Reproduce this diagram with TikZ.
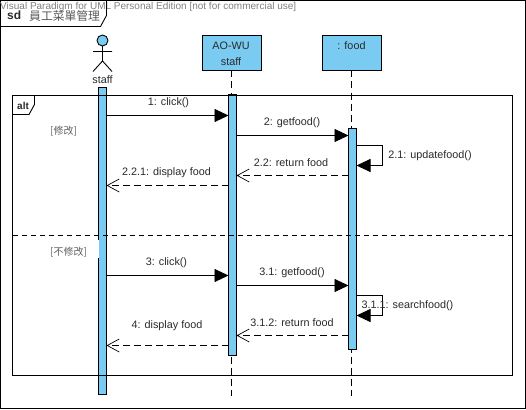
\documentclass[tikz,border=0pt]{standalone}
\usepackage{fontspec}
\setmainfont{Liberation Sans}
\newfontfamily\cjkf{Noto Sans CJK TC}[Scale=1]
\usetikzlibrary{arrows.meta}
\definecolor{lifeblue}{HTML}{7ACBF1}
\definecolor{txt}{HTML}{2A2A2A}
\tikzset{
  x=1pt,y=-1pt,
  objbox/.style={draw=black,line width=0.9pt,fill=lifeblue,inner sep=0pt,outer sep=0pt,minimum width=59pt,minimum height=35pt,anchor=north west},
  activation/.style={draw=black,line width=0.9pt,fill=lifeblue,inner sep=0pt,outer sep=0pt,minimum width=8pt,anchor=north west},
  lifeline/.style={line width=0.9pt,dash pattern=on 7pt off 4pt},
  frameline/.style={line width=0.9pt},
  sepline/.style={line width=0.8pt,dash pattern=on 5.5pt off 3.5pt},
  syncmsg/.style={line width=0.9pt,-{Triangle[length=14pt,width=13pt]}},
  retmsg/.style={line width=0.9pt,dash pattern=on 7pt off 4pt,-{Straight Barb[length=12pt,width=13pt,line width=0.7pt]}},
  lbl/.style={inner sep=0pt,font=\fontsize{10.8}{12}\selectfont,text=txt},
  guard/.style={inner sep=0pt,font=\fontsize{10}{12}\selectfont\cjkf,text=black!62},
}
\begin{document}
\begin{tikzpicture}
\useasboundingbox (0,0) rectangle (526,409);
\fill[white] (0,0) rectangle (526,409);
% outer frame
\node[draw=black,line width=0.9pt,inner sep=0pt,outer sep=0pt,minimum width=525pt,minimum height=407.5pt,anchor=north west] (outer) at (0.5,0.5) {};
% watermark
\node[inner sep=0pt,anchor=west,text=black!50,font=\fontsize{10}{12}\selectfont] (wm) at (0,7) {Visual Paradigm for UML Personal Edition [not for commercial use]};
% sd tab
\draw[frameline] (106.5,0.5) -- (106.5,15.5) -- (100.5,26.5) -- (0.5,26.5);
\node[inner sep=0pt,anchor=west,font=\bfseries\fontsize{12}{12}\selectfont,text=txt] (sdk) at (7,15.5) {sd};
\node[inner sep=0pt,anchor=west,font=\fontsize{11.8}{12}\selectfont\cjkf,text=black!65] (sdn) at (29,15.5) {員工菜單管理};
% actor
\node[circle,draw=black,line width=0.9pt,fill=lifeblue,minimum size=11pt,inner sep=0pt,outer sep=0pt] (head) at (102.5,40.5) {};
\coordinate (hip) at (102.5,61);
\coordinate (armL) at (93,51.5);
\coordinate (armR) at (112,51.5);
\coordinate (legL) at (93,71.5);
\coordinate (legR) at (112,71.5);
\draw[line width=0.9pt] (head.south) -- (hip) (armL) -- (armR) (legL) -- (hip) -- (legR);
\node[lbl] (stafflbl) at (102.5,80) {staff};
% objects
\node[objbox] (aowu) at (202.5,35.5) {};
\node[lbl] (aowu1) at (231,45.5) {AO-WU};
\node[lbl] (aowu2) at (231,62) {staff};
\node[objbox] (food) at (322.5,35.5) {};
\node[lbl] (food1) at (351.5,45.5) {: food};
% lifelines
\coordinate (endA) at (231.5,396);
\coordinate (endB) at (351.5,396);
\draw[lifeline] (aowu.south -| endA) -- (endA);
\draw[lifeline] (food.south -| endB) -- (endB);
% activations
\node[activation,minimum height=306.5pt] (act0) at (98.5,87.5) {};
\node[activation,minimum height=261pt] (act1) at (228.5,94.5) {};
\node[activation,minimum height=221pt] (act2) at (348.5,128.5) {};
% alt fragment
\node[draw=black,line width=0.9pt,inner sep=0pt,outer sep=0pt,minimum width=500pt,minimum height=280pt,anchor=north west] (alt) at (12.5,95.5) {};
\draw[frameline] (34.5,95.5) -- (34.5,104.5) -- (29,114.5) -- (12.5,114.5);
\node[inner sep=0pt,anchor=west,font=\bfseries\fontsize{10}{12}\selectfont,text=txt] (altk) at (17,105.5) {alt};
\draw[sepline] (alt.west |- 0,235.5) -- (alt.east |- 0,235.5);
\node[guard,anchor=west] (g1) at (50,131) {[修改]};
\fill[white] (90,240) rectangle (99,258);
\node[guard,anchor=west] (g2) at (50,252) {[不修改]};
% messages
\draw[syncmsg] (act0.east |- 0,115.5) -- (act1.west |- 0,115.5);
\node[lbl] (m1) at (168.5,102.5) {1: click()};
\draw[syncmsg] (act1.east |- 0,135.5) -- (act2.west |- 0,135.5);
\node[lbl] (m2) at (292,122.5) {2: getfood()};
\draw[line width=0.9pt,-{Triangle[length=14pt,width=13pt]}] (act2.east |- 0,145.5) -- (382.5,145.5) -- (382.5,165.5) -- (act2.east |- 0,165.5);
\node[lbl] (m21) at (430,155.5) {2.1: updatefood()};
\draw[retmsg] (act2.west |- 0,175.5) -- (act1.east |- 0,175.5);
\node[lbl] (m22) at (291,162.5) {2.2: return food};
\draw[retmsg] (act1.west |- 0,185.5) -- (act0.east |- 0,185.5);
\node[lbl] (m221) at (166.5,172.5) {2.2.1: display food};
\draw[syncmsg] (act0.east |- 0,275.5) -- (act1.west |- 0,275.5);
\node[lbl] (m3) at (166.5,262.5) {3: click()};
\draw[syncmsg] (act1.east |- 0,285.5) -- (act2.west |- 0,285.5);
\node[lbl] (m31) at (292,272.5) {3.1: getfood()};
\draw[line width=0.9pt,-{Triangle[length=14pt,width=13pt]}] (act2.east |- 0,295.5) -- (382.5,295.5) -- (382.5,315.5) -- (act2.east |- 0,315.5);
\node[lbl] (m311) at (407.5,305.5) {3.1.1: searchfood()};
\draw[retmsg] (act2.west |- 0,335.5) -- (act1.east |- 0,335.5);
\node[lbl] (m312) at (292,322.5) {3.1.2: return food};
\draw[retmsg] (act1.west |- 0,345.5) -- (act0.east |- 0,345.5);
\node[lbl] (m4) at (167,325.5) {4: display food};
\end{tikzpicture}
\end{document}
